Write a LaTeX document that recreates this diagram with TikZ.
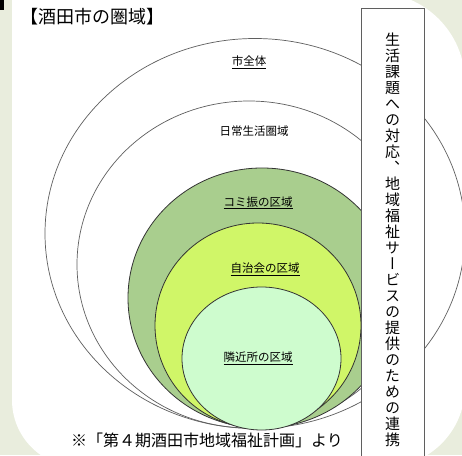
\documentclass[tikz,border=0pt]{standalone}
\usepackage{tikz}
\usepackage{xcolor}
\usepackage{fontspec}
\newfontfamily\jpfont{Noto Sans CJK JP}
\newfontfamily\tatefont[RawFeature=+vert]{Noto Sans CJK JP}

\definecolor{bgpale}{RGB}{233,237,221}
\definecolor{komigreen}{RGB}{169,206,142}
\definecolor{jichiyellow}{RGB}{208,246,104}
\definecolor{kinjolight}{RGB}{206,252,206}
\definecolor{ringgray}{RGB}{95,95,95}

\tikzset{
  ring/.style={line width=0.7pt,ringgray},
  zone/.style={line width=0.8pt,draw=black!80},
  zonelabel/.style={font=\jpfont\fontsize{11.5}{13}\selectfont,inner sep=1pt},
}

\begin{document}
\begin{tikzpicture}[x=1pt,y=1pt]
  \useasboundingbox (0,0) rectangle (462,455);
  % background and white panel
  \fill[bgpale] (0,0) rectangle (462,455);
  \fill[black] (0,455) rectangle (4,445);
  \fill[white] (12,462.5) -- (12,55) arc[start angle=180,end angle=270,radius=67]
    -- (385,-12) arc[start angle=270,end angle=360,radius=80]
    -- (465,372.5) arc[start angle=0,end angle=90,radius=90] -- cycle;
  \node[font=\jpfont\fontsize{18}{20}\selectfont,anchor=west,inner sep=0pt] (title) at (20,438) {【酒田市の圏域】};
  % nested areas
  \draw[ring] (255,221.5) ellipse[x radius=210,y radius=195];
  \draw[ring] (249,190.5) ellipse[x radius=172,y radius=163.5];
  \draw[zone,fill=komigreen] (262,157) ellipse[x radius=134,y radius=130];
  \draw[zone,fill=jichiyellow] (258,129.5) ellipse[x radius=103,y radius=102.5];
  \draw[zone,fill=kinjolight] (261.5,96.5) ellipse[x radius=79.5,y radius=71.5];
  \node[zonelabel] (city) at (249,393) {\underline{市全体}};
  \node[zonelabel] (daily) at (254,324) {日常生活圏域};
  \node[zonelabel] (komi) at (258,252) {\underline{コミ振の区域}};
  \node[zonelabel] (jichi) at (265,186) {\underline{自治会の区域}};
  \node[zonelabel] (kinjo) at (258,97) {\underline{隣近所の区域}};
  % vertical box
  \draw[line width=0.7pt,ringgray,fill=white] (361,-5) rectangle (424,447);
  \node[font=\tatefont\fontsize{15}{16}\selectfont,align=center,inner sep=0pt] (renkei) at (392.5,215)
    {生\\活\\課\\題\\へ\\の\\対\\応\\、\\地\\域\\福\\祉\\サ\\ー\\ビ\\ス\\の\\提\\供\\の\\た\\め\\の\\連\\携};
  \node[font=\jpfont\fontsize{16}{18}\selectfont,inner sep=0pt] (source) at (207,15) {※「第４期酒田市地域福祉計画」より};
\end{tikzpicture}
\end{document}
